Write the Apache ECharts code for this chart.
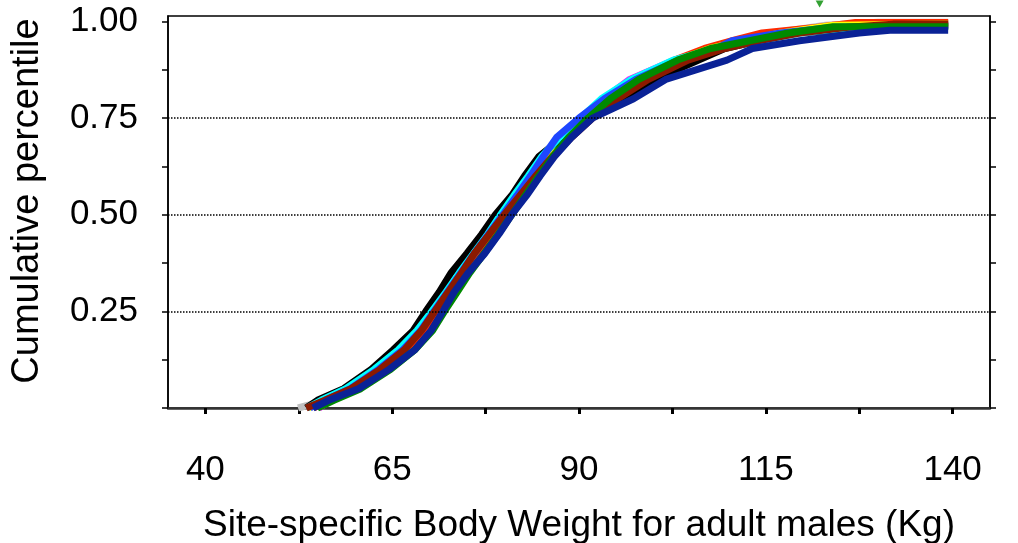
<!DOCTYPE html>
<html>
<head>
<meta charset="utf-8">
<script src="https://cdn.jsdelivr.net/npm/echarts@6/dist/echarts.min.js"></script>
<style>
  html, body { margin: 0; padding: 0; background: #fff; }
  #main { width: 1018px; height: 543px; }
</style>
</head>
<body>
<div id="main"></div>
<script>
// cumulative levels shared by the curves (y), weights in Kg (x)
var levels = [0, 0.02, 0.05, 0.10, 0.15, 0.20, 0.25, 0.30, 0.35, 0.40, 0.45, 0.50, 0.55, 0.60, 0.65, 0.70, 0.75, 0.80, 0.85, 0.90, 0.93, 0.95, 0.97]

var greyW    = [52.4, 56.2, 59.6, 63.4, 66.5, 68.9, 70.8, 72.6, 74.4, 76.3, 78.2, 80.1, 82.1, 84.2, 86.4, 88.8, 91.4, 94.4, 98.2, 103.0, 107.5, 111.5, 116.0]
var magentaW = [55.2, 56.8, 60.2, 64.0, 67.2, 69.6, 71.3, 73.0, 74.8, 76.6, 78.5, 80.3, 82.2, 84.0, 85.9, 88.0, 90.6, 93.3, 96.8, 102.8, 108.0, 113.2, 118.0]
var redW     = [54.5, 56.5, 60.0, 63.8, 67.0, 69.4, 71.2, 73.0, 74.8, 76.6, 78.4, 80.3, 82.3, 84.4, 86.6, 88.8, 91.4, 94.4, 98.0, 102.8, 106.8, 110.5, 114.5]
var yellowW  = [53.8, 55.8, 59.0, 62.6, 65.6, 68.1, 69.8, 71.6, 73.3, 75.2, 77.6, 79.5, 81.6, 83.6, 85.8, 88.4, 91.2, 94.2, 98.2, 103.2, 107.5, 112.0, 117.0]
var blackW   = [53.5, 55.0, 58.5, 62.2, 65.1, 67.8, 69.5, 71.3, 72.9, 75.0, 77.0, 78.8, 81.0, 82.7, 84.6, 87.8, 91.0, 95.6, 100.2, 106.0, 109.5, 114.0, 119.0]
var cyanW    = [53.6, 55.5, 58.8, 62.6, 65.8, 68.3, 70.3, 72.2, 74.0, 75.9, 77.8, 79.5, 81.3, 83.2, 85.0, 87.4, 90.2, 93.0, 97.0, 102.6, 108.5, 114.0, 119.5]
var blueW    = [54.0, 56.0, 59.4, 63.2, 66.4, 68.8, 70.6, 72.4, 74.2, 76.0, 77.9, 79.8, 81.7, 83.5, 85.2, 87.0, 90.0, 93.4, 97.6, 103.4, 108.4, 110.5, 117.0]
var darkRedW = [53.5, 56.0, 59.5, 63.4, 66.6, 68.9, 70.7, 72.5, 74.3, 76.0, 78.0, 80.0, 82.1, 84.2, 86.4, 89.0, 91.8, 95.2, 99.3, 104.6, 109.5, 114.0, 119.5]
var greenW   = [55.0, 57.2, 60.8, 64.8, 68.0, 70.4, 72.0, 73.7, 75.4, 77.3, 79.2, 81.0, 82.8, 84.6, 86.5, 88.6, 91.2, 94.2, 98.0, 103.2, 107.6, 112.8, 118.0]
var navyW    = [54.4, 56.5, 60.5, 64.6, 68.0, 70.2, 71.8, 73.3, 75.2, 77.4, 79.3, 81.0, 83.0, 84.8, 86.7, 89.0, 91.8, 97.3, 101.6, 109.8, 113.2, 119.5, 127.5]

// upper tails: [weight, level] pairs after the last shared level
var greyTail    = [[123, 0.99], [130, 0.998], [139.4, 0.998]]
var magentaTail = [[124, 0.99], [139.4, 0.995]]
var redTail     = [[122, 0.985], [127, 0.997], [139.4, 0.997]]
var yellowTail  = [[124, 0.99], [139.4, 0.993]]
var blackTail   = [[126, 0.98], [132, 0.988], [139.4, 0.988]]
var cyanTail    = [[127, 0.985], [139.4, 0.988]]
var blueTail    = [[124, 0.985], [139.4, 0.99]]
var darkRedTail = [[126, 0.985], [132, 0.993], [139.4, 0.993]]
var greenTail   = [[124, 0.986], [139.4, 0.986]]
var navyTail    = [[131.6, 0.977], [139.4, 0.977]]

var xLabels = [40, 65, 90, 115, 140]
var xTicks = [40, 52.5, 65, 77.5, 90, 102.5, 115, 127.5, 140]
var yLabels = [0.25, 0.5, 0.75, 1.0]
var yTicks = [0, 0.125, 0.25, 0.375, 0.5, 0.625, 0.75, 0.875, 1.0]
var gridLevels = [0.25, 0.5, 0.75]
var marker = [122.2, 1.045]

var curves = [
  { name: 'grey', color: '#c0c0c0', w: greyW, tail: greyTail },
  { name: 'magenta', color: '#ff00ff', w: magentaW, tail: magentaTail },
  { name: 'red', color: '#ff2a00', w: redW, tail: redTail },
  { name: 'yellow', color: '#ffff00', w: yellowW, tail: yellowTail },
  { name: 'black', color: '#000000', w: blackW, tail: blackTail },
  { name: 'cyan', color: '#00ffff', w: cyanW, tail: cyanTail },
  { name: 'blue', color: '#1e46ff', w: blueW, tail: blueTail },
  { name: 'darkred', color: '#8b1a00', w: darkRedW, tail: darkRedTail },
  { name: 'green', color: '#008a00', w: greenW, tail: greenTail },
  { name: 'navy', color: '#0a2296', w: navyW, tail: navyTail }
]

var font = "'Liberation Sans', Arial, sans-serif"

var series = curves.map(function (c, i) {
  var data = c.w.map(function (x, k) { return [x, levels[k]] }).concat(c.tail)
  var s = {
    name: c.name,
    type: 'line',
    data: data,
    showSymbol: false,
    symbol: 'none',
    lineStyle: { color: c.color, width: 7, join: 'round' },
    itemStyle: { color: c.color }
  }
  if (i === 0) {
    s.markLine = {
      silent: true,
      symbol: ['none', 'none'],
      label: { show: false },
      lineStyle: { color: '#000', type: 'dotted', width: 1.5 },
      data: gridLevels.map(function (v) { return { yAxis: v } })
    }
  }
  return s
})

series.push({
  name: 'marker',
  type: 'scatter',
  data: [marker],
  clip: false,
  symbol: 'triangle',
  symbolRotate: 180,
  symbolSize: [8, 7],
  itemStyle: { color: '#008a00' }
})

var myChart = echarts.init(document.getElementById('main'))
myChart.setOption({
  animation: false,
  backgroundColor: '#fff',
  grid: {
    left: 168,
    right: 28,
    top: 16,
    bottom: 135,
    outerBoundsMode: 'none',
    show: true,
    borderColor: '#000',
    borderWidth: 1.5
  },
  xAxis: {
    type: 'value',
    min: 35,
    max: 145,
    name: 'Site-specific Body Weight for adult males (Kg)',
    nameLocation: 'middle',
    nameGap: 99,
    nameTextStyle: { fontFamily: font, fontSize: 37, color: '#000' },
    axisLine: { show: true, lineStyle: { color: '#333', width: 2.5 } },
    axisTick: { show: true, customValues: xTicks, length: 6, lineStyle: { color: '#000', width: 3 } },
    axisLabel: {
      customValues: xLabels,
      margin: 45,
      fontFamily: font,
      fontSize: 35,
      color: '#000'
    },
    splitLine: { show: false }
  },
  yAxis: [
    {
      type: 'value',
      min: 0,
      max: 1.014,
      name: 'Cumulative percentile',
      nameLocation: 'middle',
      nameGap: 121,
      nameTextStyle: { fontFamily: font, fontSize: 38, color: '#000', padding: [0, 0, 0, 22] },
      axisLine: { show: true, lineStyle: { color: '#000', width: 1.5 } },
      axisTick: { show: true, customValues: yTicks, length: 6, lineStyle: { color: '#000', width: 1.5 } },
      axisLabel: {
        customValues: yLabels,
        margin: 30,
        fontFamily: font,
        fontSize: 35,
        color: '#000',
        formatter: function (v) { return v.toFixed(2) }
      },
      splitLine: { show: false }
    },
    {
      type: 'value',
      position: 'right',
      min: 0,
      max: 1.014,
      axisLine: { show: true, lineStyle: { color: '#000', width: 1.5 } },
      axisTick: { show: true, customValues: yTicks, length: 6, lineStyle: { color: '#000', width: 1.5 } },
      axisLabel: { show: false },
      splitLine: { show: false }
    }
  ],
  series: series
})
</script>
</body>
</html>
